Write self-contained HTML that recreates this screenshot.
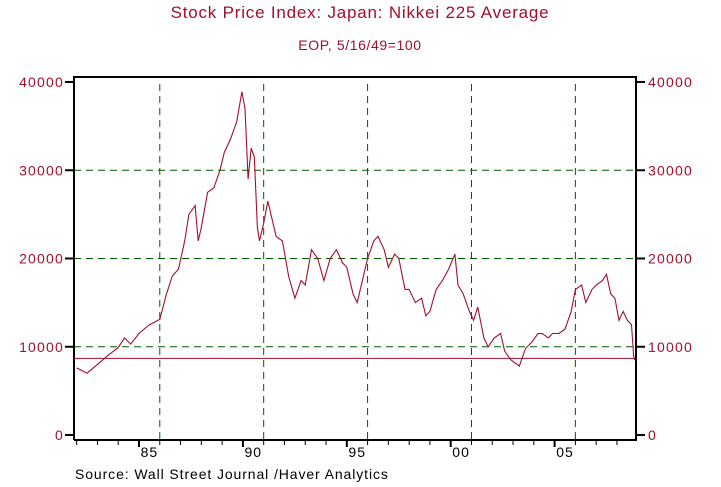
<!DOCTYPE html>
<html><head><meta charset="utf-8"><style>
body{margin:0;background:#fff;}
svg{display:block;font-family:"Liberation Sans",Arial,sans-serif;}
</style></head><body>
<svg id="chart" width="721" height="487" viewBox="0 0 721 487">
<text x="360" y="18" text-anchor="middle" font-size="17" letter-spacing="0.8" fill="#a0102c">Stock Price Index: Japan: Nikkei 225 Average</text>
<text x="360" y="50" text-anchor="middle" font-size="14" letter-spacing="0.6" fill="#a0102c">EOP, 5/16/49=100</text>
<text x="75" y="479" font-size="14" letter-spacing="0.9" fill="#000">Source:  Wall Street Journal /Haver Analytics</text>
<g id="grid"></g>
<g id="axes"></g>
<g id="series"></g>
</svg>
<script>
const yTicks=[0,10000,20000,30000,40000];
const xLabels=["85","90","95","00","05"];
const xLabelYears=[1985,1990,1995,2000,2005];
const gridYears=[1986,1991,1996,2001,2006];
const refValue=8680;
const dates=[1982.0,1982.5,1983.0,1983.5,1984.0,1984.3,1984.6,1985.0,1985.5,1986.0,1986.3,1986.6,1986.9,1987.2,1987.4,1987.7,1987.85,1988.0,1988.3,1988.6,1988.9,1989.1,1989.4,1989.7,1989.95,1990.1,1990.25,1990.4,1990.55,1990.7,1990.8,1991.0,1991.2,1991.4,1991.6,1991.9,1992.2,1992.5,1992.8,1993.0,1993.3,1993.6,1993.9,1994.2,1994.5,1994.8,1995.0,1995.3,1995.5,1995.8,1996.0,1996.3,1996.5,1996.8,1997.0,1997.3,1997.5,1997.8,1998.0,1998.3,1998.6,1998.8,1999.0,1999.3,1999.6,1999.9,2000.2,2000.35,2000.6,2000.9,2001.1,2001.3,2001.6,2001.8,2002.1,2002.4,2002.6,2002.9,2003.2,2003.3,2003.6,2003.9,2004.2,2004.4,2004.7,2004.9,2005.2,2005.5,2005.8,2006.0,2006.3,2006.5,2006.8,2007.0,2007.3,2007.5,2007.7,2007.9,2008.1,2008.3,2008.5,2008.7,2008.8,2008.85];
const values=[7600,7000,8000,9000,9900,11000,10300,11500,12500,13100,15800,18000,18800,22000,25000,26000,22000,23500,27500,28000,30000,32000,33500,35500,38900,37000,29000,32500,31500,23500,22000,24000,26500,24500,22500,22000,18000,15500,17500,17000,21000,20000,17500,20000,21000,19500,19000,16000,15000,18000,20000,22000,22500,21000,19000,20500,20000,16500,16500,15000,15500,13500,14000,16500,17500,18800,20500,17000,16000,14000,13000,14500,11000,10000,11000,11500,9500,8500,8000,7800,9800,10500,11500,11500,11000,11500,11500,12000,14000,16500,17000,15000,16500,17000,17500,18200,16000,15500,13000,14000,13000,12500,9000,8500];

const NS="http://www.w3.org/2000/svg";
const L=74,R=636,T=77,B=440;
const xs=y=>139+(y-1985)*20.78;
const ys=v=>435-v*(353/40000);
function mk(tag,attrs,parent){const e=document.createElementNS(NS,tag);for(const k in attrs)e.setAttribute(k,attrs[k]);parent.appendChild(e);return e;}
const grid=document.getElementById('grid'),axes=document.getElementById('axes'),ser=document.getElementById('series');
const red="#a0102c",green="#005a00";
yTicks.forEach(v=>{
 if(v>0&&v<40000){const g=mk('line',{x1:L,x2:R,y1:ys(v),y2:ys(v),stroke:green,'stroke-width':1,'stroke-dasharray':'7,5'},grid);
 
 }
 const t1=mk('line',{x1:L-9,x2:L,y1:ys(v),y2:ys(v),stroke:'#000','stroke-width':2},axes);
 
 
 const t2=mk('line',{x1:R,x2:R+9,y1:ys(v),y2:ys(v),stroke:'#000','stroke-width':2},axes);
 
 
 const a=mk('text',{x:L-10,y:ys(v)+5,'text-anchor':'end','font-size':14,'letter-spacing':1.2,fill:red},axes);a.textContent=v;
 
 
 const b=mk('text',{x:R+12,y:ys(v)+5,'font-size':14,'letter-spacing':1.2,fill:red},axes);b.textContent=v;
 
 
});
gridYears.forEach(y=>{const g=mk('line',{x1:xs(y),x2:xs(y),y1:T+7,y2:B,stroke:green,'stroke-width':1,'stroke-dasharray':'7,5'},grid);
 
 });
for(let y=1982;y<=2009;y++){const x=xs(y);if(x>R+1)break;const maj=xLabelYears.includes(y);
 const t=mk('line',{x1:x,x2:x,y1:B,y2:B+(maj?7:5),stroke:'#000','stroke-width':maj?2:1},axes);
 
 }
xLabels.forEach((s,i)=>{const t=mk('text',{x:xs(xLabelYears[i])+10.4,y:B+17,'text-anchor':'middle','font-size':14,'letter-spacing':1,fill:'#000'},axes);t.textContent=s;
 
 });
const frame=mk('path',{d:`M${L},${B}V${T}H${R}V${B}H${L}`,fill:'none',stroke:'#000','stroke-width':2},axes);


const ref=mk('line',{x1:L,x2:R,y1:ys(refValue),y2:ys(refValue),stroke:red,'stroke-width':1},ser);


const pts=dates.map((d,i)=>xs(d).toFixed(1)+','+ys(values[i]).toFixed(1)).join(' ');
const pl=mk('polyline',{points:pts,fill:'none',stroke:red,'stroke-width':1.1},ser);


</script>
</body></html>
